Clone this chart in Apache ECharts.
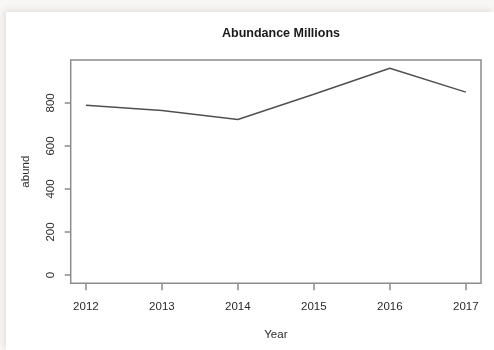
<!DOCTYPE html>
<html>
<head>
<meta charset="utf-8">
<script src="https://cdn.jsdelivr.net/npm/echarts@6/dist/echarts.min.js"></script>
<style>
html,body{margin:0;padding:0;width:494px;height:350px;overflow:hidden;background:#f9f7f5;}
#card{position:absolute;left:6px;top:12px;width:488px;height:338px;background:#fff;box-shadow:-2px -2px 6px rgba(120,110,100,0.18);}
#chart{width:488px;height:338px;}
</style>
</head>
<body>
<div id="card"><div id="chart"></div></div>
<script>
const years = [2012, 2013, 2014, 2015, 2016, 2017];
const abund = [789, 765, 723, 840, 961, 850];
const yTicks = [0, 200, 400, 600, 800];
const xTicks = [2012, 2013, 2014, 2015, 2016, 2017];

const chart = echarts.init(document.getElementById('chart'), null, {renderer: 'canvas'});
const font = 'Liberation Sans, Arial, sans-serif';
chart.setOption({
  animation: false,
  title: {
    text: 'Abundance Millions',
    left: 270, top: 10, textAlign: 'center',
    textStyle: {fontFamily: font, fontSize: 12.5, fontWeight: 'bold', color: '#1a1a1a'}
  },
  grid: {left: 64.7, right: 13, top: 48, bottom: 66.7, show: true, borderColor: '#8c8c8c', borderWidth: 1.5, backgroundColor: 'transparent'},
  xAxis: {
    type: 'value', min: 2011.8, max: 2017.2,
    name: 'Year', nameLocation: 'middle', nameGap: 46,
    nameTextStyle: {fontFamily: font, fontSize: 11.5, color: '#2a2a2a'},
    axisLine: {show: false, onZero: false},
    splitLine: {show: false},
    axisTick: {show: true, customValues: xTicks, length: 7, inside: false, lineStyle: {color: '#8c8c8c', width: 1.5}},
    axisLabel: {customValues: xTicks, margin: 18, fontFamily: font, fontSize: 11.5, color: '#2a2a2a', formatter: v => String(v)}
  },
  yAxis: {
    type: 'value', min: -38.4, max: 999.4,
    name: 'abund', nameLocation: 'middle', nameGap: 39, nameRotate: 90,
    nameTextStyle: {fontFamily: font, fontSize: 11.5, color: '#2a2a2a'},
    axisLine: {show: false, onZero: false},
    splitLine: {show: false},
    axisTick: {show: true, customValues: yTicks, length: 6, inside: false, lineStyle: {color: '#8c8c8c', width: 1.5}},
    axisLabel: {customValues: yTicks, rotate: 90, margin: 14, fontFamily: font, fontSize: 11.5, color: '#2a2a2a'}
  },
  series: [{
    type: 'line',
    data: years.map((y, i) => [y, abund[i]]),
    showSymbol: false,
    lineStyle: {color: '#505050', width: 1.5}
  }]
});
</script>
</body>
</html>
